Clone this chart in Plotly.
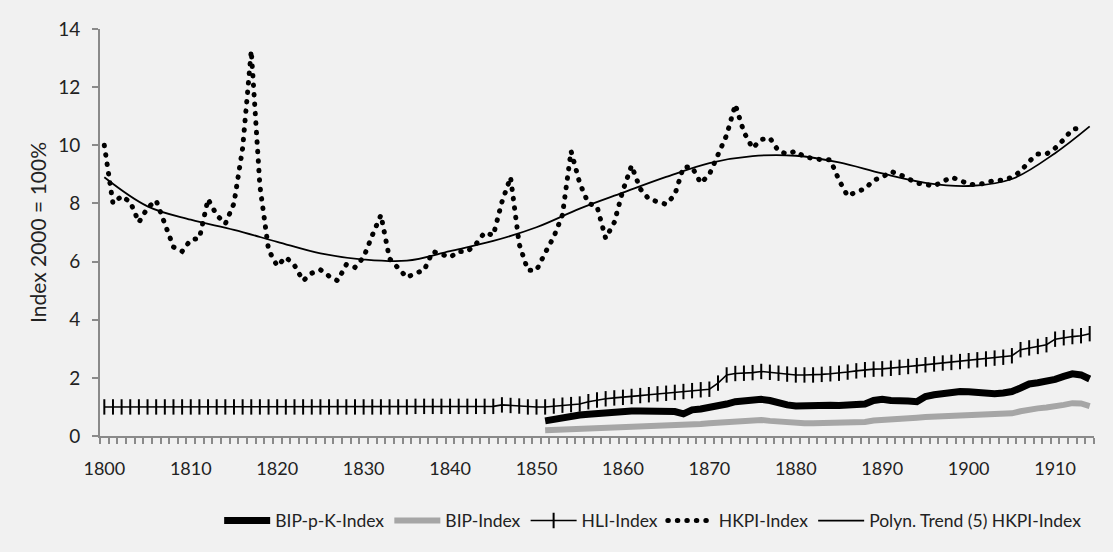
import plotly.graph_objects as go

years = list(range(1800, 1915))

hkpi = [10.0, 8.0, 8.25, 8.05, 7.35, 7.85, 8.1, 7.3, 6.5, 6.35,
        6.75, 6.8, 8.15, 7.6, 7.3, 8.0, 9.9, 13.25, 8.6, 6.4,
        5.85, 6.15, 5.87, 5.34, 5.6, 5.72, 5.5, 5.34, 5.9, 5.8,
        6.15, 6.9, 7.6, 6.1, 5.8, 5.45, 5.6, 5.7, 6.35, 6.25,
        6.15, 6.35, 6.35, 6.6, 7.0, 6.9, 8.05, 8.9, 6.6, 5.7,
        5.7, 6.3, 6.85, 7.6, 9.8, 8.7, 8.0, 7.9, 6.8, 7.35,
        8.45, 9.3, 8.5, 8.15, 8.05, 7.97, 8.3, 9.25, 9.25, 8.7,
        9.0, 9.7, 10.35, 11.4, 10.45, 9.9, 10.2, 10.25, 9.8, 9.7,
        9.8, 9.6, 9.55, 9.5, 9.5, 8.8, 8.25, 8.4, 8.5, 8.8,
        8.9, 9.1, 9.0, 8.85, 8.7, 8.65, 8.6, 8.75, 8.9, 8.8,
        8.65, 8.65, 8.7, 8.8, 8.8, 8.9, 9.1, 9.45, 9.7, 9.7,
        9.9, 10.2, 10.55, 10.6, None]

hli = [1.0] * 36 + [1.02] * 10 + [1.07, 1.05, 1.03, 1.0,
       1.0, 1.0, 1.03, 1.06, 1.08, 1.1, 1.18, 1.24, 1.28, 1.31,
       1.33, 1.36, 1.39, 1.42, 1.45, 1.47, 1.5, 1.53, 1.56, 1.59,
       1.61, 1.82, 2.1, 2.15, 2.16, 2.18, 2.22, 2.19, 2.16, 2.13,
       2.1, 2.1, 2.1, 2.12, 2.14, 2.16, 2.2, 2.24, 2.28, 2.3,
       2.31, 2.33, 2.36, 2.39, 2.42, 2.45, 2.48, 2.51, 2.53, 2.56,
       2.59, 2.62, 2.65, 2.68, 2.71, 2.76, 2.97, 3.03, 3.08, 3.14,
       3.33, 3.38, 3.42, 3.45, 3.52]

bip_pk = [None] * 51 + [0.52, 0.58, 0.64, 0.68, 0.72, 0.75, 0.78, 0.8, 0.82,
          0.84, 0.86, 0.86, 0.87, 0.87, 0.86, 0.84, 0.76, 0.9, 0.93,
          0.97, 1.01, 1.1, 1.18, 1.22, 1.24, 1.26, 1.22, 1.13, 1.07,
          1.03, 1.05, 1.07, 1.07, 1.06, 1.05, 1.05, 1.06, 1.1, 1.22,
          1.26, 1.22, 1.24, 1.2, 1.18, 1.36, 1.42, 1.47, 1.51, 1.53,
          1.52, 1.48, 1.46, 1.45, 1.48, 1.53, 1.65, 1.79, 1.83, 1.87,
          1.95, 2.05, 2.14, 2.1, 1.96]

bip = [None] * 51 + [0.2, 0.21, 0.22, 0.23, 0.24, 0.25, 0.26, 0.27, 0.28,
       0.29, 0.3, 0.31, 0.32, 0.33, 0.34, 0.35, 0.35, 0.38, 0.41,
       0.44, 0.46, 0.5, 0.53, 0.54, 0.55, 0.55, 0.52, 0.49, 0.46,
       0.44, 0.44, 0.44, 0.44, 0.44, 0.44, 0.45, 0.46, 0.48, 0.53,
       0.56, 0.57, 0.59, 0.61, 0.63, 0.65, 0.66, 0.67, 0.69, 0.7,
       0.7, 0.71, 0.71, 0.72, 0.75, 0.78, 0.85, 0.92, 0.95, 0.98,
       1.01, 1.07, 1.13, 1.12, 1.03]

trend_years = [1800, 1805, 1810, 1815, 1820, 1825, 1830, 1835, 1840, 1845,
               1850, 1855, 1860, 1865, 1870, 1875, 1880, 1885, 1890, 1895,
               1900, 1905, 1910, 1914]
trend_vals = [8.9, 7.9, 7.44, 7.09, 6.68, 6.28, 6.07, 6.03, 6.36, 6.71,
              7.18, 7.82, 8.37, 8.91, 9.39, 9.63, 9.64, 9.41, 9.03, 8.71,
              8.6, 8.84, 9.73, 10.65]

tick_years = list(range(1800, 1911, 10))
tick_labels = [str(y) for y in tick_years]
y_ticks = [0, 2, 4, 6, 8, 10, 12, 14]

FONT = "Lato, 'Open Sans', sans-serif"
AXIS = "#8a8a8a"
BG = "#f1f1f1"

fig = go.Figure()
fig.add_trace(go.Scatter(x=years, y=bip_pk, name="BIP-p-K-Index", mode="lines",
                         line=dict(color="black", width=7)))
fig.add_trace(go.Scatter(x=years, y=bip, name="BIP-Index", mode="lines",
                         line=dict(color="#a6a6a6", width=6)))
fig.add_trace(go.Scatter(x=years, y=hli, name="HLI-Index", mode="lines+markers",
                         line=dict(color="black", width=1.6),
                         marker=dict(symbol="line-ns", size=11,
                                     line=dict(color="black", width=2))))
fig.add_trace(go.Scatter(x=years, y=hkpi, name="HKPI-Index", mode="lines",
                         line=dict(color="black", width=5, dash="0.5px,9px")))
fig.add_trace(go.Scatter(x=trend_years, y=trend_vals, name="Polyn. Trend (5) HKPI-Index",
                         mode="lines", line=dict(color="black", width=1.8, shape="spline",
                                                 smoothing=1.0)))

fig.update_layout(
    width=1113, height=552,
    paper_bgcolor=BG, plot_bgcolor=BG,
    margin=dict(l=100, r=19, t=29, b=116),
    font=dict(family=FONT, size=18, color="#222"),
    showlegend=True,
    legend=dict(orientation="h", x=0.556, xanchor="center", y=-0.208, yanchor="middle",
                font=dict(size=17.5, color="#222"), itemwidth=46,
                bgcolor="rgba(0,0,0,0)", traceorder="normal"),
)
fig.update_xaxes(
    range=[1799.5, 1914.5], showgrid=False, zeroline=False,
    showline=True, linecolor=AXIS, linewidth=2,
    tickmode="array", tickvals=tick_years, ticktext=tick_labels,
    ticks="", ticklabelstandoff=15,
    tickfont=dict(size=18, color="#222"),
    minor=dict(tickmode="array", tickvals=[y - 0.5 for y in years] + [years[-1] + 0.5],
               ticks="outside", ticklen=6, tickcolor=AXIS, tickwidth=1.5, showgrid=False),
)
fig.update_yaxes(
    range=[0, 14], showgrid=False, zeroline=False,
    showline=True, linecolor=AXIS, linewidth=2,
    tickmode="array", tickvals=y_ticks,
    ticks="outside", ticklen=6, tickcolor=AXIS, tickwidth=1.5, ticklabelstandoff=8,
    tickfont=dict(size=19, color="#222"),
    title=dict(text="Index 2000 = 100%", font=dict(size=21, color="#222"), standoff=6),
)

post = """
document.body.style.margin = '0';
document.body.style.background = '#f1f1f1';
var gd = document.getElementById('{plot_id}');
function roundDots(){
  gd.querySelectorAll('path').forEach(function(p){
    var d = p.style.strokeDasharray || '';
    if (d.indexOf('0.5') === 0) { p.style.strokeLinecap = 'round'; }
  });
}
roundDots();
gd.on('plotly_afterplot', roundDots);
"""

fig.write_html("out.html", post_script=post, config={"responsive": False, "displayModeBar": False})
